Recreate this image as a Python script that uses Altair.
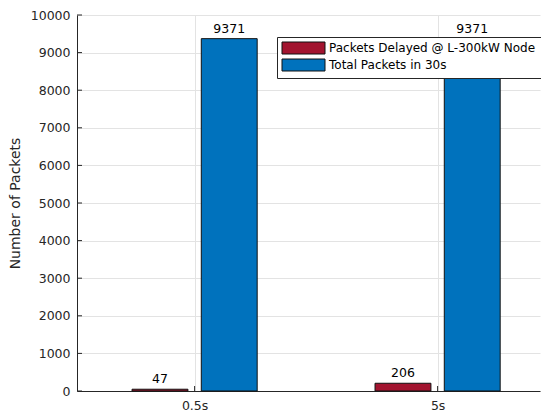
import json
import altair as alt
import pandas as pd

categories = ["0.5s", "5s"]
series = ["Packets Delayed @ L-300kW Node", "Total Packets in 30s"]
delayed = [47, 206]
total = [9371, 9371]
y_ticks = [0, 1000, 2000, 3000, 4000, 5000, 6000, 7000, 8000, 9000, 10000]
colors = ["#A2142F", "#0072BD"]

rows = []
for i, c in enumerate(categories):
    for s_i, (s, vals) in enumerate(zip(series, [delayed, total])):
        rows.append({"category": c, "idx": i + 1, "sidx": s_i, "series": s, "value": vals[i]})
df = pd.DataFrame(rows)

FONT = "DejaVu Sans"
AX = "#262626"
GRID = "#e3e3e3"

W, H = 463, 376
X0 = 0.516

xscale = alt.Scale(domain=[X0, X0 + W / 243.0], nice=False, zero=False)
yscale = alt.Scale(domain=[0, 10000], nice=False)

label_expr = json.dumps(categories) + "[datum.value - 1]"

xaxis = alt.Axis(values=[1, 2], labelExpr=label_expr, title=None, grid=True,
                 gridColor=GRID, ticks=False, labelPadding=8,
                 domainColor=AX, labelColor=AX, labelFont=FONT, labelFontSize=12.5)
yaxis = alt.Axis(values=y_ticks, format="d", title="Number of Packets", grid=True,
                 gridColor=GRID, ticks=False, labelPadding=7,
                 domainColor=AX, labelColor=AX, labelFont=FONT, labelFontSize=12.5,
                 titleFont=FONT, titleFontSize=14, titleFontWeight="normal",
                 titleColor=AX, titlePadding=8)

base = alt.Chart(df).transform_calculate(
    pos="datum.idx + (datum.sidx - 0.5) * 0.285",
    zero="0",
).transform_calculate(
    lo="datum.pos - 0.115", hi="datum.pos + 0.115"
)

bars = base.mark_rect(stroke="#111111", strokeWidth=1).encode(
    x=alt.X("lo:Q", scale=xscale, axis=xaxis),
    x2="hi:Q",
    y=alt.Y("value:Q", scale=yscale, axis=yaxis),
    y2="zero:Q",
    color=alt.Color("series:N", scale=alt.Scale(domain=series, range=colors),
                    legend=alt.Legend(orient="none", legendX=200, legendY=22, title=None,
                                      symbolType="M-10.75,-3H10.75V3H-10.75Z", symbolSize=16,
                                      symbolOffset=15.5, labelOffset=19.5,
                                      symbolStrokeColor="#111111", symbolStrokeWidth=1,
                                      symbolOpacity=1, labelLimit=400,
                                      labelFont=FONT, labelFontSize=12, labelColor="#000000",
                                      fillColor="white", strokeColor=AX, padding=5,
                                      rowPadding=1)),
)

labels = base.mark_text(dy=-6, baseline="alphabetic", font=FONT, fontSize=12.5,
                        color="#000000").encode(
    x=alt.X("pos:Q", scale=xscale, axis=xaxis),
    y=alt.Y("value:Q", scale=yscale, axis=yaxis),
    text="value:Q",
)

yt = alt.Chart(pd.DataFrame({"t": y_ticks})).mark_rule(color=AX).encode(
    y=alt.Y("t:Q", scale=yscale, axis=yaxis),
    x=alt.value(0), x2=alt.value(5),
)

xt = alt.Chart(pd.DataFrame({"i": [1, 2]})).mark_rule(color=AX).encode(
    x=alt.X("i:Q", scale=xscale, axis=xaxis),
    y=alt.value(H), y2=alt.value(H - 5),
)

chart = alt.layer(bars, labels, yt, xt).properties(
    width=W, height=H,
    autosize=alt.AutoSizeParams(type="none"),
    padding={"left": 69, "top": 7, "right": 1, "bottom": 20},
).configure_view(stroke=None)

chart.save("out.html", embed_options={"renderer": "svg", "actions": False})
